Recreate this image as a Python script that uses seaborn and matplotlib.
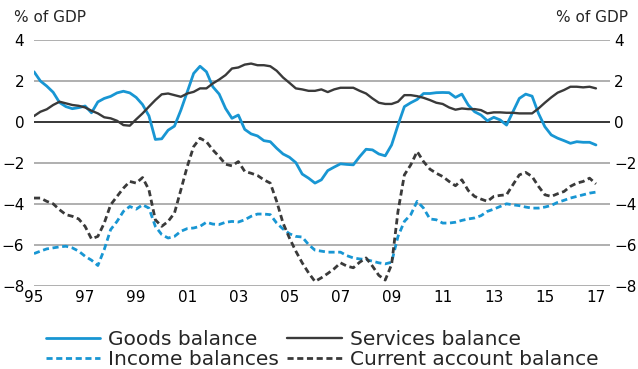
import numpy as np
import pandas as pd
import matplotlib
matplotlib.use("Agg")
import matplotlib.pyplot as plt
import seaborn as sns

# Quarterly data, 1995Q1 - 2017Q1 (% of GDP)
inicio = 1995
goods = [2.45, 2.0, 1.75, 1.45, 0.95, 0.75, 0.65, 0.7, 0.78, 0.45, 0.98, 1.15,
         1.25, 1.42, 1.5, 1.42, 1.2, 0.85, 0.3, -0.85, -0.82, -0.4, -0.2, 0.58,
         1.47, 2.37, 2.72, 2.45, 1.72, 1.36, 0.66, 0.18, 0.34, -0.36, -0.58, -0.68,
         -0.91, -0.96, -1.28, -1.56, -1.72, -1.98, -2.54, -2.74, -2.98, -2.82, -2.37, -2.2,
         -2.04, -2.07, -2.09, -1.69, -1.33, -1.36, -1.56, -1.65, -1.12, -0.15, 0.75, 0.94,
         1.1, 1.39, 1.39, 1.43, 1.44, 1.43, 1.2, 1.36, 0.83, 0.5, 0.34, 0.06,
         0.23, 0.1, -0.15, 0.5, 1.15, 1.36, 1.26, 0.42, -0.23, -0.63, -0.79, -0.91,
         -1.04, -0.96, -0.99, -0.99, -1.12]
services = [0.29, 0.5, 0.62, 0.83, 0.99, 0.91, 0.83, 0.79, 0.71, 0.55, 0.42, 0.23,
            0.18, 0.06, -0.15, -0.18, 0.13, 0.42, 0.75, 1.07, 1.35, 1.39, 1.31, 1.23,
            1.39, 1.47, 1.64, 1.64, 1.88, 2.07, 2.29, 2.61, 2.66, 2.8, 2.85, 2.77,
            2.77, 2.72, 2.5, 2.17, 1.91, 1.64, 1.59, 1.52, 1.52, 1.59, 1.46, 1.59,
            1.67, 1.67, 1.67, 1.52, 1.39, 1.15, 0.94, 0.88, 0.88, 0.99, 1.31, 1.31,
            1.26, 1.18, 1.07, 0.94, 0.88, 0.71, 0.6, 0.66, 0.63, 0.63, 0.58, 0.42,
            0.47, 0.47, 0.45, 0.45, 0.42, 0.42, 0.42, 0.66, 0.94, 1.2, 1.43, 1.56,
            1.72, 1.72, 1.69, 1.72, 1.64]
income = [-6.42, -6.3, -6.19, -6.14, -6.09, -6.06, -6.14, -6.3, -6.55, -6.74, -7.0, -6.22,
          -5.25, -4.85, -4.36, -4.12, -4.25, -4.04, -4.2, -5.09, -5.49, -5.66, -5.58, -5.33,
          -5.2, -5.17, -5.09, -4.89, -4.98, -5.0, -4.89, -4.85, -4.88, -4.77, -4.6, -4.49,
          -4.49, -4.52, -4.93, -5.22, -5.45, -5.58, -5.61, -5.98, -6.25, -6.3, -6.35, -6.35,
          -6.35, -6.52, -6.63, -6.68, -6.71, -6.79, -6.87, -6.92, -6.84, -5.58, -4.85, -4.52,
          -3.87, -4.2, -4.73, -4.77, -4.93, -4.93, -4.89, -4.8, -4.73, -4.68, -4.57, -4.36,
          -4.25, -4.12, -3.99, -4.04, -4.08, -4.15, -4.2, -4.2, -4.15, -4.07, -3.92, -3.82,
          -3.71, -3.63, -3.55, -3.47, -3.42]
current = [-3.71, -3.71, -3.87, -3.99, -4.28, -4.52, -4.6, -4.73, -5.09, -5.7, -5.58, -4.93,
           -4.04, -3.63, -3.23, -2.9, -2.98, -2.71, -3.31, -4.77, -5.09, -4.85, -4.44, -3.31,
           -2.17, -1.2, -0.79, -0.96, -1.36, -1.69, -2.06, -2.14, -1.93, -2.41, -2.5, -2.61,
           -2.82, -2.98, -3.87, -4.93, -5.66, -6.3, -6.87, -7.36, -7.78, -7.6, -7.39, -7.16,
           -6.87, -7.03, -7.11, -6.84, -6.63, -7.03, -7.48, -7.71, -6.95, -4.36, -2.58, -2.09,
           -1.44, -1.93, -2.3, -2.5, -2.66, -2.9, -3.11, -2.82, -3.34, -3.63, -3.76, -3.87,
           -3.63, -3.58, -3.55, -3.06, -2.58, -2.46, -2.66, -3.14, -3.55, -3.63, -3.5, -3.39,
           -3.14, -2.98, -2.9, -2.74, -3.02]

anos_ticks = list(range(1995, 2018, 2))
rotulos_ticks = [f"{a % 100:02d}" for a in anos_ticks]
y_ticks = [-8, -6, -4, -2, 0, 2, 4]

AZUL = "#1896d3"
ESCURO = "#3a3a3a"
TAM_TICKS = 11
TAM_LEGENDA = 14.5

datas = inicio + np.arange(len(goods)) / 4
df = pd.DataFrame({"data": datas, "goods": goods, "services": services,
                   "income": income, "current": current})

sns.set_theme(style="white")
plt.rcParams["font.family"] = ["DejaVu Sans"]

fig = plt.figure(figsize=(6.38, 3.69), dpi=100)
ax = fig.add_axes([34 / 638, 1 - 286 / 369, (610 - 34) / 638, (286 - 40) / 369])

for y in y_ticks:
    cor = "black" if y == 0 else "#9a9a9a"
    ax.axhline(y, color=cor, lw=1.1, zorder=0)

sns.lineplot(data=df, x="data", y="goods", ax=ax, color=AZUL, lw=2.0,
             label="Goods balance")
sns.lineplot(data=df, x="data", y="services", ax=ax, color=ESCURO, lw=1.7,
             label="Services balance")
sns.lineplot(data=df, x="data", y="income", ax=ax, color=AZUL, lw=2.0,
             dashes=(2.2, 1.3), label="Income balances")
sns.lineplot(data=df, x="data", y="current", ax=ax, color=ESCURO, lw=2.0,
             dashes=(2.2, 1.3), label="Current account balance")

ax.set_xlim(1995, 2017.55)
ax.set_ylim(-8, 4)
ax.set_xticks(anos_ticks)
ax.set_xticklabels(rotulos_ticks)
ax.set_yticks(y_ticks)
ax.set_xlabel("")
ax.set_ylabel("")
for s in ax.spines.values():
    s.set_visible(False)
ax.tick_params(axis="both", length=0, labelsize=TAM_TICKS, colors="black")
ax.tick_params(axis="x", pad=3)
ax.tick_params(axis="y", pad=7)

ax2 = ax.twinx()
ax2.set_ylim(-8, 4)
ax2.set_yticks(y_ticks)
for s in ax2.spines.values():
    s.set_visible(False)
ax2.tick_params(axis="y", length=0, labelsize=TAM_TICKS, colors="black", pad=3)
ax2.grid(False)

fig.text(14 / 638, 1 - 17 / 369, "% of GDP", fontsize=TAM_TICKS, ha="left", va="center")
fig.text(628 / 638, 1 - 17 / 369, "% of GDP", fontsize=TAM_TICKS, ha="right", va="center")

# legenda: coluna 1 = goods/income, coluna 2 = services/current
ax.legend_.remove()
handles, labels = ax.get_legend_handles_labels()
ordem = [0, 2, 1, 3]
fig.legend([handles[i] for i in ordem], [labels[i] for i in ordem],
           loc="upper center", bbox_to_anchor=(0.505, 1 - 320 / 369),
           ncol=2, frameon=False, fontsize=TAM_LEGENDA, handlelength=2.7,
           handletextpad=0.4, columnspacing=0.4, labelspacing=0.05, borderpad=0)

fig.savefig("out.png", dpi=100)
